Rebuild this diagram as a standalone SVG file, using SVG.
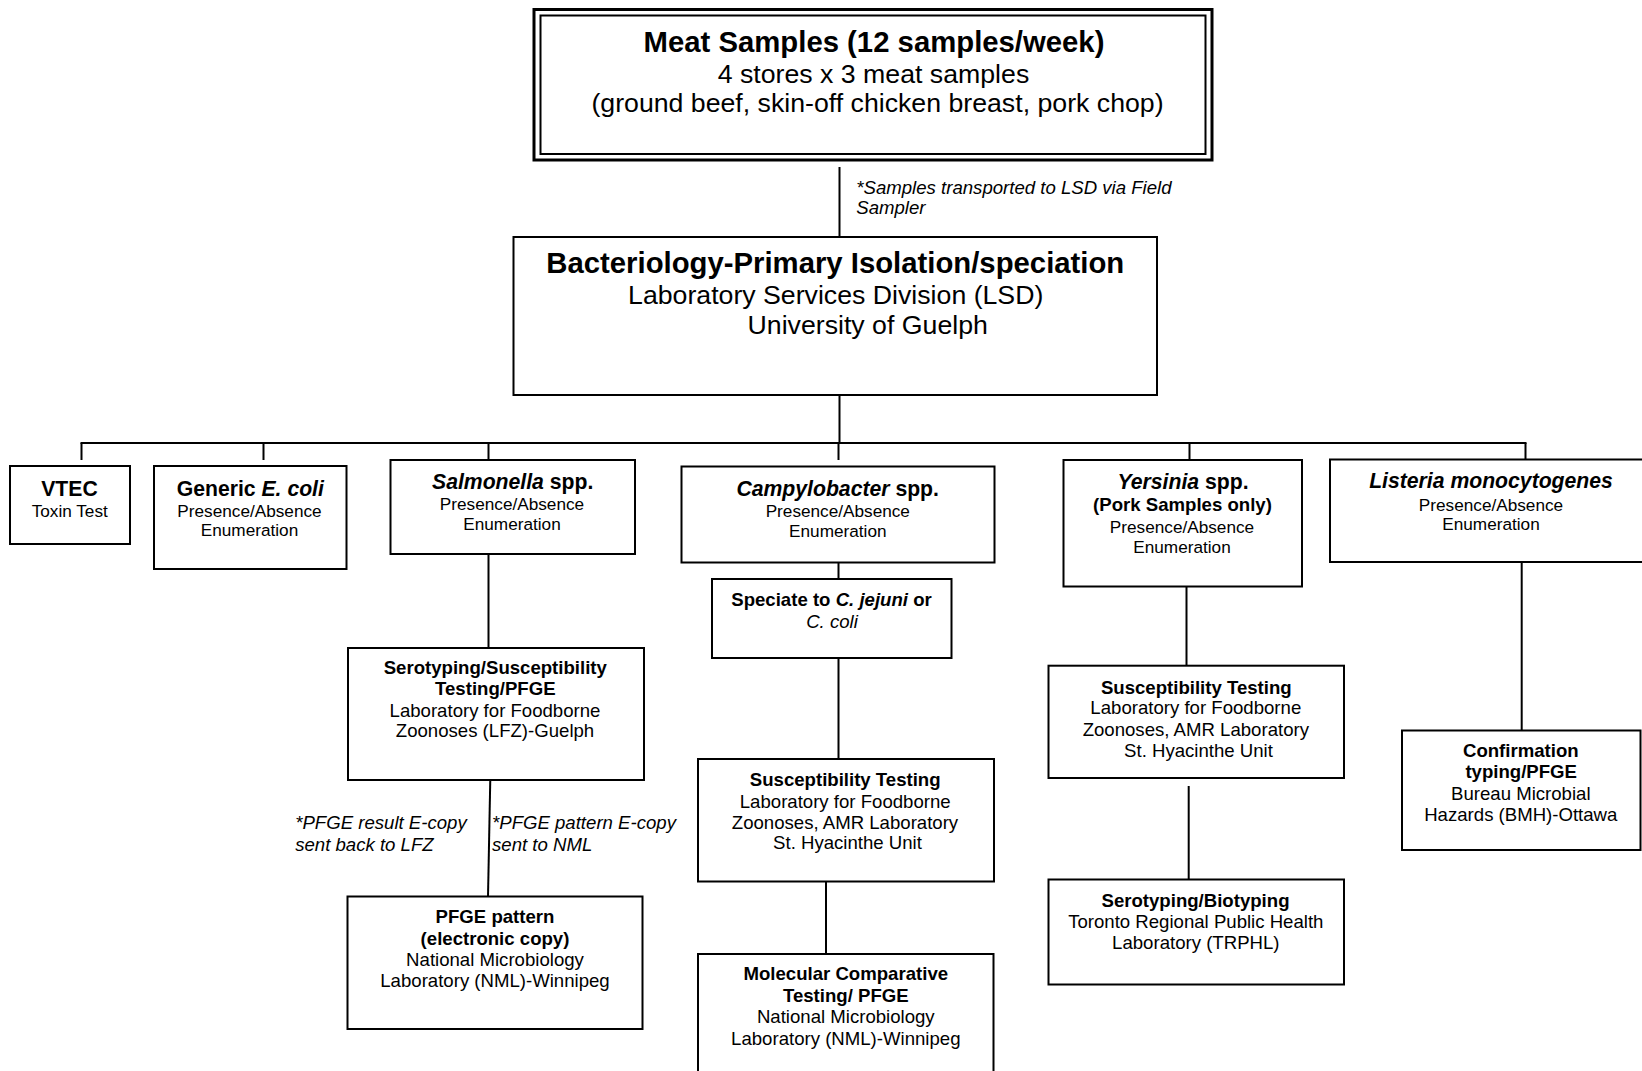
<svg xmlns="http://www.w3.org/2000/svg" width="1642" height="1071" viewBox="0 0 1642 1071">
<style>
text{font-family:"Liberation Sans",Arial,sans-serif;fill:#000}
.c{text-anchor:middle}
.b{font-weight:bold}
.i{font-style:italic}
.t1{font-size:29.3px}
.t2{font-size:26.7px}
.h{font-size:21.2px}
.s{font-size:17.2px}
.m{font-size:18.6px}
.box{fill:#fff;stroke:#000;stroke-width:2}
.ln{fill:none;stroke:#000;stroke-width:2}
</style>
<rect width="1642" height="1071" fill="#fff"/>

<g id="connectors">
<line class="ln" x1="839.5" y1="167" x2="839.5" y2="237"/>
<line class="ln" x1="839.5" y1="391" x2="839.5" y2="443"/>
<line class="ln" x1="80.5" y1="443" x2="1526.5" y2="443"/>
<line class="ln" x1="81.5" y1="443" x2="81.5" y2="460"/>
<line class="ln" x1="263.5" y1="443" x2="263.5" y2="460"/>
<line class="ln" x1="488.5" y1="443" x2="488.5" y2="460"/>
<line class="ln" x1="838.5" y1="443" x2="838.5" y2="460"/>
<line class="ln" x1="1189.5" y1="443" x2="1189.5" y2="460"/>
<line class="ln" x1="1525.5" y1="443" x2="1525.5" y2="460"/>
<line class="ln" x1="488.5" y1="546" x2="488.5" y2="648"/>
<line class="ln" x1="490.3" y1="778" x2="488" y2="897"/>
<line class="ln" x1="838.5" y1="546" x2="838.5" y2="580"/>
<line class="ln" x1="838.5" y1="658" x2="838.5" y2="759"/>
<line class="ln" x1="826" y1="882" x2="826" y2="954"/>
<line class="ln" x1="1186.5" y1="587" x2="1186.5" y2="673"/>
<line class="ln" x1="1188.7" y1="786" x2="1188.7" y2="880"/>
<line class="ln" x1="1521.7" y1="562" x2="1521.7" y2="734"/>
<text class="i m" x="856.3" y="194">*Samples transported to LSD via Field</text>
<text class="i m" x="856.3" y="214">Sampler</text>
<text class="i m" x="295.2" y="829">*PFGE result E-copy</text>
<text class="i m" x="295.2" y="850.5">sent back to LFZ</text>
<text class="i m" x="492" y="829">*PFGE pattern E-copy</text>
<text class="i m" x="492" y="850.5">sent to NML</text>
</g>

<g id="meat-samples">
<rect x="534" y="9.5" width="678" height="150.5" fill="#fff" stroke="#000" stroke-width="3"/>
<rect x="540.5" y="15.5" width="665" height="138.5" fill="none" stroke="#000" stroke-width="2"/>
<text class="c b t1" x="874" y="52.3">Meat Samples (12 samples/week)</text>
<text class="c t2" x="873.5" y="82.5">4 stores x 3 meat samples</text>
<text class="c t2" x="877.5" y="111.7">(ground beef, skin-off chicken breast, pork chop)</text>
</g>

<g id="bacteriology">
<rect class="box" x="513.5" y="237" width="643.5" height="158" fill="none"/>
<text class="c b t1" x="835.3" y="273.3">Bacteriology-Primary Isolation/speciation</text>
<text class="c t2" x="835.7" y="304">Laboratory Services Division (LSD)</text>
<text class="c t2" x="867.7" y="334.3">University of Guelph</text>
</g>

<g id="vtec">
<rect class="box" x="10" y="466" width="120" height="78"/>
<text class="c b h" x="69.5" y="496">VTEC</text>
<text class="c s" x="69.7" y="516.7">Toxin Test</text>
</g>

<g id="generic-ecoli">
<rect class="box" x="154" y="466" width="192.5" height="103"/>
<text class="c b h" x="250.3" y="496">Generic <tspan class="i">E. coli</tspan></text>
<text class="c s" x="249.5" y="516.7">Presence/Absence</text>
<text class="c s" x="249.5" y="536">Enumeration</text>
</g>

<g id="salmonella">
<rect class="box" x="390.5" y="460" width="244.5" height="94"/>
<text class="c b h" x="512.7" y="489.3"><tspan class="i">Salmonella</tspan> spp.</text>
<text class="c s" x="512" y="510">Presence/Absence</text>
<text class="c s" x="512" y="530">Enumeration</text>
</g>

<g id="campylobacter">
<rect class="box" x="681.5" y="466.5" width="313" height="96"/>
<text class="c b h" x="837.7" y="496"><tspan class="i">Campylobacter</tspan> spp.</text>
<text class="c s" x="837.8" y="516.7">Presence/Absence</text>
<text class="c s" x="837.8" y="536.7">Enumeration</text>
</g>

<g id="yersinia">
<rect class="box" x="1063.5" y="460" width="238.5" height="126.5"/>
<text class="c b h" x="1183" y="489.3"><tspan class="i">Yersinia</tspan> spp.</text>
<text class="c b m" x="1182.5" y="511">(Pork Samples only)</text>
<text class="c s" x="1182" y="532.7">Presence/Absence</text>
<text class="c s" x="1182" y="552.7">Enumeration</text>
</g>

<g id="listeria">
<rect class="box" x="1330" y="459.5" width="330" height="102.5"/>
<text class="c b i h" x="1491" y="488.3">Listeria monocytogenes</text>
<text class="c s" x="1491" y="510.5">Presence/Absence</text>
<text class="c s" x="1491" y="530">Enumeration</text>
</g>

<g id="speciate">
<rect class="box" x="712" y="579" width="239.5" height="79"/>
<text class="c b m" x="831.5" y="606">Speciate to <tspan class="i">C. jejuni</tspan> or</text>
<text class="c i m" x="832" y="627.7">C. coli</text>
</g>

<g id="salmonella-serotyping">
<rect class="box" x="348" y="648" width="296" height="132"/>
<text class="c b m" x="495.3" y="674.3">Serotyping/Susceptibility</text>
<text class="c b m" x="495.3" y="695">Testing/PFGE</text>
<text class="c m" x="495" y="716.7">Laboratory for Foodborne</text>
<text class="c m" x="495" y="737.3">Zoonoses (LFZ)-Guelph</text>
</g>

<g id="pfge-pattern">
<rect class="box" x="347.5" y="896.5" width="295" height="132.5"/>
<text class="c b m" x="495" y="923.3">PFGE pattern</text>
<text class="c b m" x="495" y="944.5">(electronic copy)</text>
<text class="c m" x="495" y="965.5">National Microbiology</text>
<text class="c m" x="495" y="986.7">Laboratory (NML)-Winnipeg</text>
</g>

<g id="campylobacter-susceptibility">
<rect class="box" x="698" y="759" width="296" height="122.5"/>
<text class="c b m" x="845.2" y="786">Susceptibility Testing</text>
<text class="c m" x="845.2" y="807.7">Laboratory for Foodborne</text>
<text class="c m" x="845" y="829">Zoonoses, AMR Laboratory</text>
<text class="c m" x="847.5" y="849.4">St. Hyacinthe Unit</text>
</g>

<g id="molecular">
<rect class="box" x="698" y="954" width="295.5" height="130"/>
<text class="c b m" x="845.8" y="980.3">Molecular Comparative</text>
<text class="c b m" x="845.8" y="1001.7">Testing/ PFGE</text>
<text class="c m" x="845.8" y="1023.3">National Microbiology</text>
<text class="c m" x="845.8" y="1045">Laboratory (NML)-Winnipeg</text>
</g>

<g id="yersinia-susceptibility">
<rect class="box" x="1048.5" y="665.7" width="295.5" height="112.3"/>
<text class="c b m" x="1196.3" y="693.5">Susceptibility Testing</text>
<text class="c m" x="1195.8" y="714">Laboratory for Foodborne</text>
<text class="c m" x="1195.8" y="735.5">Zoonoses, AMR Laboratory</text>
<text class="c m" x="1198.5" y="756.5">St. Hyacinthe Unit</text>
</g>

<g id="yersinia-serotyping">
<rect class="box" x="1048.5" y="879.5" width="295.5" height="105"/>
<text class="c b m" x="1195.5" y="907.3">Serotyping/Biotyping</text>
<text class="c m" x="1195.8" y="928.3">Toronto Regional Public Health</text>
<text class="c m" x="1195.8" y="949">Laboratory (TRPHL)</text>
</g>

<g id="listeria-confirmation">
<rect class="box" x="1402" y="730.5" width="238.5" height="119.5"/>
<text class="c b m" x="1520.8" y="757.3">Confirmation</text>
<text class="c b m" x="1521.2" y="778.3">typing/PFGE</text>
<text class="c m" x="1520.8" y="800">Bureau Microbial</text>
<text class="c m" x="1520.8" y="821">Hazards (BMH)-Ottawa</text>
</g>
</svg>
